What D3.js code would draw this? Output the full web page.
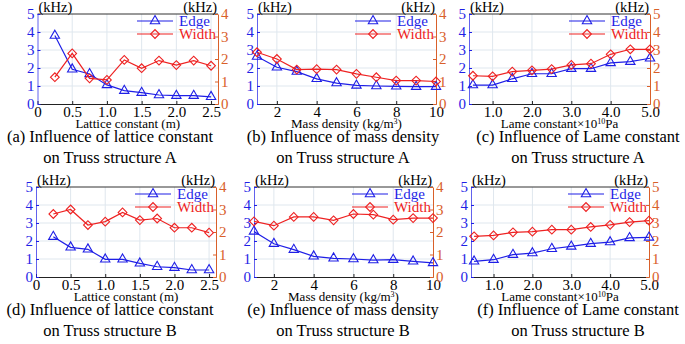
<!DOCTYPE html>
<html>
<head>
<meta charset="utf-8">
<script src="https://cdn.jsdelivr.net/npm/d3@7"></script>
<style>
  body { margin: 0; background: #fff; }
  svg { display: block; }
  svg text { font-family: "Liberation Serif", "DejaVu Serif", serif; }
</style>
</head>
<body>
<div id="chart"></div>
<script>
// x values
const latticeX = [0.25, 0.5, 0.75, 1.0, 1.25, 1.5, 1.75, 2.0, 2.25, 2.5];
const massX = [1, 2, 3, 4, 5, 6, 7, 8, 9, 10];
const lameX = [0.5, 1.0, 1.5, 2.0, 2.5, 3.0, 3.5, 4.0, 4.5, 5.0];

// Truss structure A (kHz)
const edgeA = [3.8, 1.93, 1.67, 1.06, 0.74, 0.63, 0.5, 0.46, 0.46, 0.4];
const widthA = [1.19, 2.25, 1.14, 1.07, 1.96, 1.59, 1.93, 1.73, 1.93, 1.7];
const edgeB = [2.64, 2.04, 1.8, 1.4, 1.16, 1.03, 1.0, 0.98, 0.96, 0.96];
const widthB = [2.3, 2.0, 1.53, 1.55, 1.53, 1.34, 1.19, 1.04, 1.04, 1.0];
const edgeC = [1.05, 1.05, 1.4, 1.68, 1.68, 1.96, 1.96, 2.28, 2.35, 2.54];
const widthC = [1.57, 1.54, 1.8, 1.87, 1.94, 2.17, 2.24, 2.76, 3.04, 3.04];

// Truss structure B (kHz)
const edgeD = [2.24, 1.65, 1.54, 0.98, 0.98, 0.76, 0.57, 0.52, 0.39, 0.39];
const widthD = [2.8, 3.0, 2.31, 2.46, 2.87, 2.53, 2.6, 2.19, 2.19, 1.97];
const edgeE = [2.53, 1.85, 1.52, 1.15, 1.04, 1.0, 0.94, 0.96, 0.87, 0.78];
const widthE = [2.47, 2.28, 2.67, 2.67, 2.52, 2.8, 2.77, 2.55, 2.62, 2.62];
const edgeF = [0.87, 0.96, 1.24, 1.33, 1.57, 1.7, 1.85, 1.94, 2.17, 2.2];
const widthF = [2.26, 2.31, 2.48, 2.52, 2.63, 2.63, 2.78, 2.9, 3.05, 3.13];

const latticeTicks = [0, 0.5, 1.0, 1.5, 2.0, 2.5];
const massTicks = [2, 4, 6, 8, 10];
const lameTicks = [1.0, 2.0, 3.0, 4.0, 5.0];

const seriesNames = ["Edge", "Width"];

const edgeColor = "#1f1fe6";
const widthColor = "#ee2222";
const rightColor = "#d9602a";
const gridColor = "#dfe7ee";
const serif = "Liberation Serif";

const latticeLabel = [["Lattice constant (m)", false]];
const massLabel = [["Mass density (kg/m", false], ["3", true], [")", false]];
const lameLabel = [["Lame constant\u00d710", false], ["10", true], ["Pa", false]];

const fmt1 = d => d === 0 ? "0" : d.toFixed(1);

const panels = [
  {x0: 37.5, x1: 218, top: 14, bottom: 104, xs: latticeX, xDom: [0, 2.6], ticks: latticeTicks, fmt: fmt1,
   edge: edgeA, width: widthA, rMax: 4, label: latticeLabel, cx: 110,
   cap: ["(a) Influence of lattice constant", "on Truss structure A"]},
  {x0: 257, x1: 436, top: 14, bottom: 104, xs: massX, xDom: [1, 10], ticks: massTicks, fmt: d => d,
   edge: edgeB, width: widthB, rMax: 4, label: massLabel, cx: 343,
   cap: ["(b) Influence of mass density", "on Truss structure A"]},
  {x0: 469, x1: 650, top: 14, bottom: 104, xs: lameX, xDom: [0.4, 5.0], ticks: lameTicks, fmt: fmt1,
   edge: edgeC, width: widthC, rMax: 5, label: lameLabel, cx: 578,
   cap: ["(c) Influence of Lame constant", "on Truss structure A"]},
  {x0: 36, x1: 216, top: 187, bottom: 277, xs: latticeX, xDom: [0, 2.6], ticks: latticeTicks, fmt: fmt1,
   edge: edgeD, width: widthD, rMax: 4, label: latticeLabel, cx: 110,
   cap: ["(d) Influence of lattice constant", "on Truss structure B"]},
  {x0: 254, x1: 433, top: 187, bottom: 277, xs: massX, xDom: [1, 10], ticks: massTicks, fmt: d => d,
   edge: edgeE, width: widthE, rMax: 4, label: massLabel, cx: 343,
   cap: ["(e) Influence of mass density", "on Truss structure B"]},
  {x0: 471, x1: 649, top: 187, bottom: 277, xs: lameX, xDom: [0.42, 5.0], ticks: lameTicks, fmt: fmt1,
   edge: edgeF, width: widthF, rMax: 5, label: lameLabel, cx: 578,
   cap: ["(f) Influence of Lame constant", "on Truss structure B"]}
];

const svg = d3.select("#chart").append("svg")
  .attr("width", 685)
  .attr("height", 344)
  .attr("font-family", serif);

const triangle = d3.symbol().type(d3.symbolTriangle).size(38)();
const diamond = d3.symbol().type(d3.symbolSquare).size(38)();

panels.forEach(p => {
  const g = svg.append("g");
  const x = d3.scaleLinear().domain(p.xDom).range([p.x0, p.x1]);
  const yL = d3.scaleLinear().domain([0, 5]).range([p.bottom, p.top]);
  const yR = d3.scaleLinear().domain([0, p.rMax]).range([p.bottom, p.top]);

  // grid
  g.append("g").selectAll("line.v")
    .data(p.ticks.filter(t => t > p.xDom[0] && t < p.xDom[1]))
    .enter().append("line")
    .attr("x1", d => x(d)).attr("x2", d => x(d))
    .attr("y1", p.top).attr("y2", p.bottom)
    .attr("stroke", gridColor).attr("stroke-width", 1);
  g.append("g").selectAll("line.h")
    .data([1, 2, 3, 4])
    .enter().append("line")
    .attr("x1", p.x0).attr("x2", p.x1)
    .attr("y1", d => yL(d)).attr("y2", d => yL(d))
    .attr("stroke", gridColor).attr("stroke-width", 1);

  // top border
  g.append("line")
    .attr("x1", p.x0).attr("x2", p.x1)
    .attr("y1", p.top).attr("y2", p.top)
    .attr("stroke", "#333").attr("stroke-width", 1);

  // bottom axis
  const xAxis = g.append("g")
    .attr("transform", `translate(0,${p.bottom})`)
    .call(d3.axisBottom(x).tickValues(p.ticks).tickFormat(p.fmt).tickSizeInner(-3).tickSizeOuter(0).tickPadding(2));
  xAxis.attr("font-family", serif).attr("font-size", 15);
  xAxis.select(".domain").attr("stroke", "#222");
  xAxis.selectAll(".tick line").attr("stroke", "#222");
  xAxis.selectAll("text").attr("fill", "#000");

  // left axis
  const lAxis = g.append("g")
    .attr("transform", `translate(${p.x0},0)`)
    .call(d3.axisLeft(yL).tickValues([0, 1, 2, 3, 4, 5]).tickFormat(d3.format("d")).tickSizeInner(-3).tickSizeOuter(0).tickPadding(3));
  lAxis.attr("font-family", serif).attr("font-size", 15);
  lAxis.select(".domain").attr("stroke", edgeColor).attr("stroke-opacity", 0.7);
  lAxis.selectAll(".tick line").attr("stroke", edgeColor);
  lAxis.selectAll("text").attr("fill", edgeColor);

  // right axis
  const rAxis = g.append("g")
    .attr("transform", `translate(${p.x1},0)`)
    .call(d3.axisRight(yR).tickValues(d3.range(0, p.rMax + 1)).tickFormat(d3.format("d")).tickSizeInner(-3).tickSizeOuter(0).tickPadding(3));
  rAxis.attr("font-family", serif).attr("font-size", 15);
  rAxis.select(".domain").attr("stroke", rightColor);
  rAxis.selectAll(".tick line").attr("stroke", rightColor);
  rAxis.selectAll("text").attr("fill", rightColor);

  // units
  g.append("text").attr("x", p.x0 + 1).attr("y", p.top - 2)
    .attr("font-size", 14.5).text("(kHz)");
  g.append("text").attr("x", p.x1 - 1).attr("y", p.top - 2)
    .attr("text-anchor", "end").attr("font-size", 14.5).text("(kHz)");

  // series
  const series = [
    {vals: p.edge, y: yL, color: edgeColor, sym: triangle, rot: 0},
    {vals: p.width, y: yR, color: widthColor, sym: diamond, rot: 45}
  ];
  series.forEach(s => {
    const pts = p.xs.map((v, i) => [v, s.vals[i]]);
    g.append("path")
      .attr("d", d3.line().x(d => x(d[0])).y(d => s.y(d[1]))(pts))
      .attr("fill", "none").attr("stroke", s.color).attr("stroke-width", 1.2);
    g.append("g").selectAll("path")
      .data(pts)
      .enter().append("path")
      .attr("d", s.sym)
      .attr("transform", d => `translate(${x(d[0])},${s.y(d[1])}) rotate(${s.rot})`)
      .attr("fill", "none").attr("stroke", s.color).attr("stroke-width", 1.1);
  });

  // legend
  seriesNames.forEach((name, i) => {
    const ly = p.top + 7 + i * 13;
    const lx = p.x1 - 81;
    const col = i === 0 ? edgeColor : widthColor;
    g.append("line").attr("x1", lx).attr("x2", lx + 36)
      .attr("y1", ly).attr("y2", ly)
      .attr("stroke", col).attr("stroke-width", 1.2);
    g.append("path").attr("d", i === 0 ? triangle : diamond)
      .attr("transform", `translate(${lx + 18},${ly}) rotate(${i === 0 ? 0 : 45})`)
      .attr("fill", "none").attr("stroke", col).attr("stroke-width", 1.1);
    g.append("text").attr("x", lx + 42).attr("y", ly + 5)
      .attr("font-size", 15).attr("fill", col).text(name);
  });

  // x label
  const xl = g.append("text")
    .attr("x", (p.x0 + p.x1) / 2).attr("y", p.bottom + 24)
    .attr("text-anchor", "middle").attr("font-size", 13);
  p.label.forEach(part => {
    const t = xl.append("tspan").text(part[0]);
    if (part[1]) t.attr("baseline-shift", "super").attr("font-size", 8);
  });

  // caption
  p.cap.forEach((c, i) => {
    g.append("text").attr("x", p.cx).attr("y", p.bottom + 38 + i * 21)
      .attr("text-anchor", "middle").attr("font-size", 16.5).text(c);
  });
});
</script>
</body>
</html>
